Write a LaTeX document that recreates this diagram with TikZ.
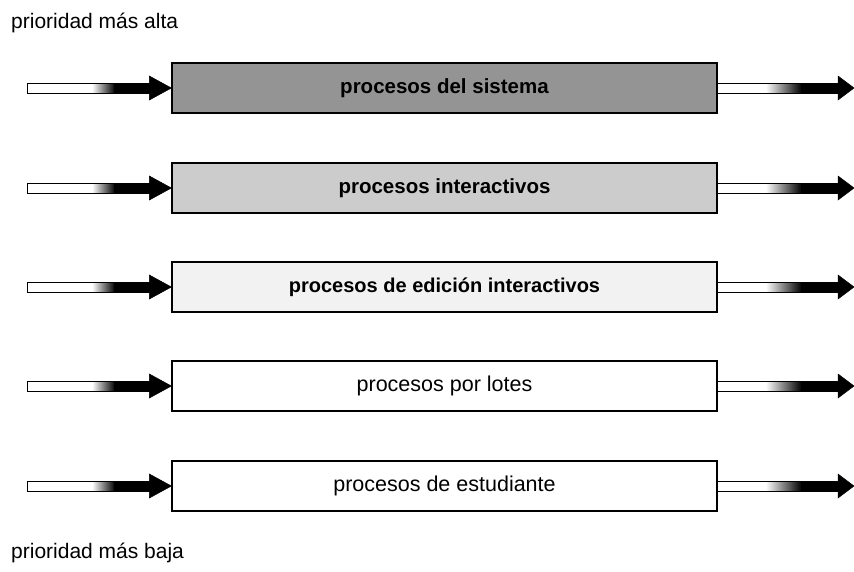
\documentclass[tikz,border=0pt]{standalone}
\usepackage{fontspec}
\setmainfont{Liberation Sans}
\usetikzlibrary{calc}
\begin{document}
\begin{tikzpicture}[x=1pt,y=-1pt,
  procbox/.style={draw=black,line width=1.3pt,minimum width=545pt,minimum height=50pt,inner sep=0pt},
  shaft/.style={draw=black,line width=1pt},
  head/.style={fill=black,draw=black,line width=0.5pt,line join=miter},
  label/.style={anchor=base west,inner sep=0pt,font=\fontsize{21}{25}\selectfont}]
\useasboundingbox (0,0) rectangle (854,571);
\foreach \i/\yc/\fc/\txt/\ff in {
  1/88/black!42/procesos del sistema/\fontsize{20.5}{24}\selectfont\bfseries,
  2/188/black!20/procesos interactivos/\fontsize{20.5}{24}\selectfont\bfseries,
  3/287/black!5/procesos de edición interactivos/\fontsize{20}{24}\selectfont\bfseries,
  4/386/white/procesos por lotes/\fontsize{21.5}{25}\selectfont,
  5/486/white/procesos de estudiante/\fontsize{21.5}{25}\selectfont}{
  \node[procbox,fill=\fc] (B\i) at (444.5,\yc) {\ff\txt};
  \coordinate (L\i) at (27,\yc);
  \coordinate (R\i) at (854,\yc);
  % left arrow
  \fill[white] ($(L\i)+(0,-5)$) rectangle ($(L\i)+(66,5)$);
  \shade[left color=white,right color=black] ($(L\i)+(65,-5)$) rectangle ($(L\i)+(88,5)$);
  \fill[black] ($(L\i)+(87,-5)$) rectangle ($(B\i.west)+(-20,5)$);
  \draw[shaft] ($(L\i)+(0,-5)$) rectangle ($(B\i.west)+(-20,5)$);
  \draw[head] ($(B\i.west)+(-22,-12)$) -- (B\i.west) -- ($(B\i.west)+(-22,12)$) -- cycle;
  % right arrow
  \fill[white] ($(B\i.east)+(0,-5)$) rectangle ($(B\i.east)+(49,5)$);
  \shade[left color=white,right color=black] ($(B\i.east)+(48,-5)$) rectangle ($(B\i.east)+(84,5)$);
  \fill[black] ($(B\i.east)+(83,-5)$) rectangle ($(R\i)+(-14,5)$);
  \draw[shaft] (B\i.east) ++(0,-5) rectangle ($(R\i)+(-14,5)$);
  \draw[head] ($(R\i)+(-16,-12)$) -- (R\i) -- ($(R\i)+(-16,12)$) -- cycle;
}
\node[label] (top) at (11,28) {prioridad más alta};
\node[label] (bot) at (11,558) {prioridad más baja};
\end{tikzpicture}
\end{document}
